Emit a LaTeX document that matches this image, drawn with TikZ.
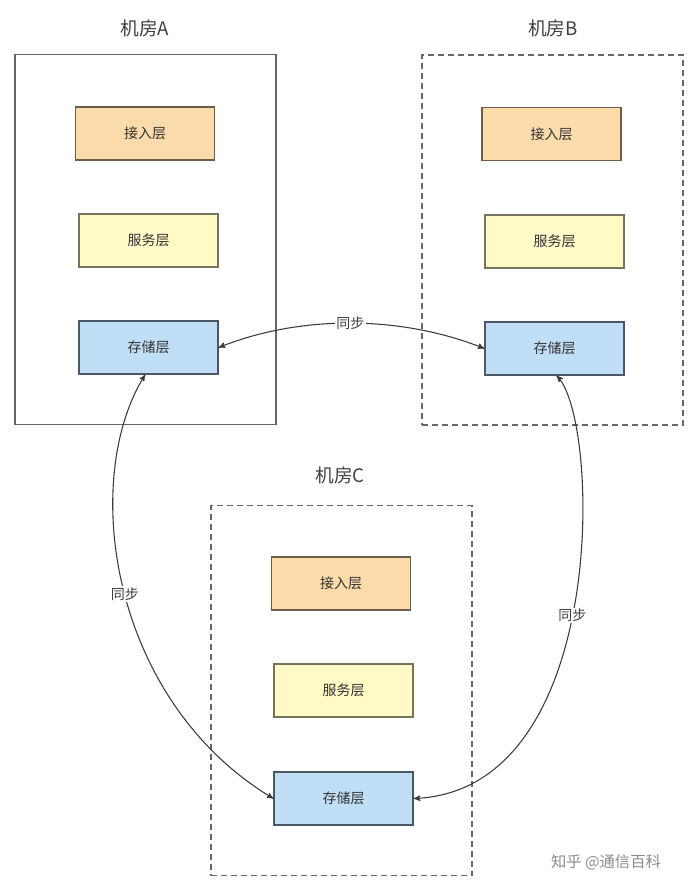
\documentclass[tikz,border=0pt]{standalone}
\usepackage{fontspec}
\newfontfamily\cjk{Noto Sans CJK SC}
\usetikzlibrary{arrows}
\definecolor{accessfill}{HTML}{FCDBAA}
\definecolor{accessdraw}{HTML}{6E5C4C}
\definecolor{servicefill}{HTML}{FFFAC6}
\definecolor{servicedraw}{HTML}{75755E}
\definecolor{storefill}{HTML}{C0DEF6}
\definecolor{storedraw}{HTML}{4C5866}
\definecolor{roomdraw}{HTML}{666666}
\definecolor{linkdraw}{HTML}{3A3A3A}
\tikzset{
	>=stealth',
	room/.style={
		rectangle,
		draw=roomdraw, line width=1pt,
		minimum width=195.75pt,
		minimum height=277.5pt},
	dashroom/.style={
		room,
		dash pattern=on 4.5pt off 3pt},
	title/.style={
		font=\cjk\fontsize{14}{16}\selectfont,
		text=black!75},
	layer/.style={
		rectangle,
		line width=1pt,
		minimum width=104.25pt,
		minimum height=39.75pt,
		font=\cjk\fontsize{10.5}{12}\selectfont,
		text=black!80,
		inner sep=0pt},
	access/.style={layer, fill=accessfill, draw=accessdraw},
	service/.style={layer, fill=servicefill, draw=servicedraw},
	store/.style={layer, fill=storefill, draw=storedraw},
	sync/.style={<->, draw=linkdraw, line width=0.8pt},
	synclabel/.style={
		font=\cjk\fontsize{10.5}{12}\selectfont,
		text=black!75, fill=white, inner sep=1pt},
}
\begin{document}
\begin{tikzpicture}[x=0.75pt,y=-0.75pt]
	\useasboundingbox (0,0) rectangle (698,892);
	% rooms
	\node[room] (roomA) at (145.5,239.5) {};
	\node[dashroom] (roomB) at (552.5,240) {};
	\node[dashroom] (roomC) at (341.5,690.5) {};
	\node[title] (titleA) at (145,28) {机房A};
	\node[title] (titleB) at (553,28) {机房B};
	\node[title] (titleC) at (340,475) {机房C};
	% layers
	\node[access]  (accA)  at (145,133.5) {接入层};
	\node[service] (srvA)  at (148.5,240.5) {服务层};
	\node[store]   (stoA)  at (148.5,347.5) {存储层};
	\node[access]  (accB)  at (551.5,134) {接入层};
	\node[service] (srvB)  at (554.5,241.5) {服务层};
	\node[store]   (stoB)  at (554.5,348.5) {存储层};
	\node[access]  (accC)  at (341,583.5) {接入层};
	\node[service] (srvC)  at (343.5,690.5) {服务层};
	\node[store]   (stoC)  at (343.5,798.5) {存储层};
	% sync links
	\draw[sync] (stoA.east) .. controls (300,315) and (400,315) .. (stoB.west)
		node[synclabel, pos=0.5] (syncAB) {同步};
	\draw[sync] ([xshift=-2.5pt]stoA.south) .. controls (80,480) and (110,700) .. (stoC.west)
		node[synclabel, pos=0.51] (syncAC) {同步};
	\draw[sync] ([xshift=1.5pt]stoB.south) .. controls (600,420) and (610,790) .. (stoC.east)
		node[synclabel, pos=0.525] (syncBC) {同步};
	% watermark
	\node[font=\cjk\fontsize{11.5}{13}\selectfont, text=black!45] (mark) at (606,862) {知乎 @通信百科};
\end{tikzpicture}
\end{document}
